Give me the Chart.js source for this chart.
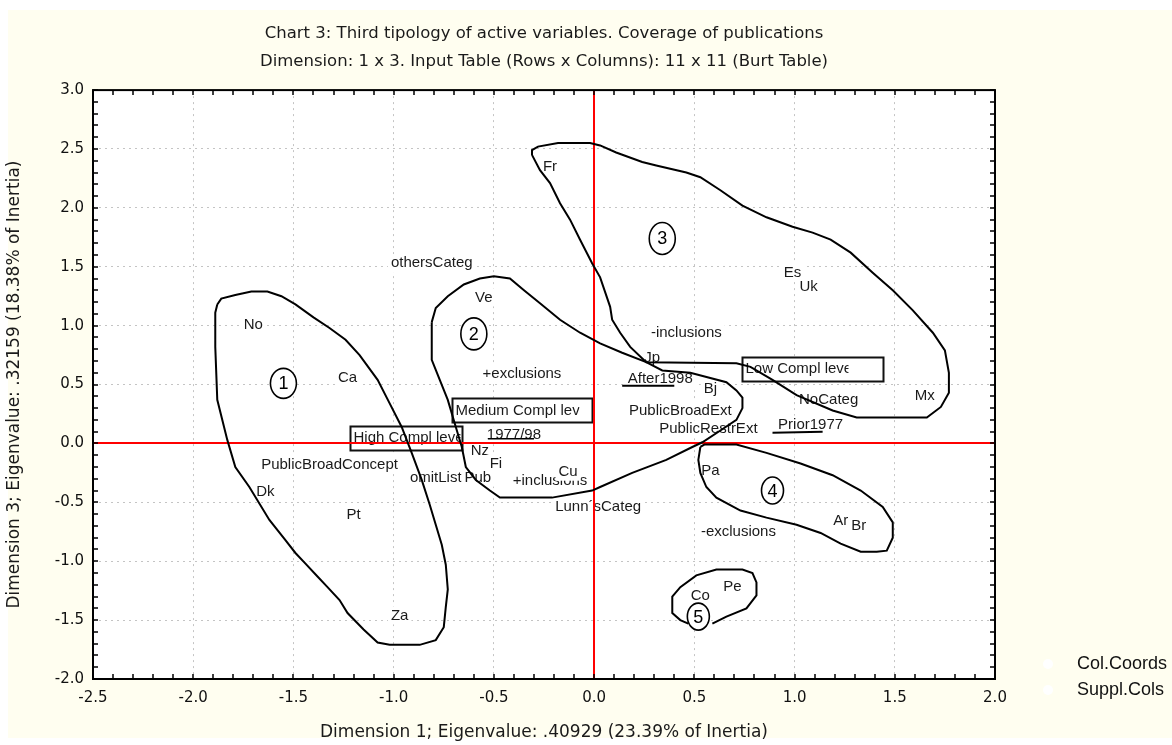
<!DOCTYPE html>
<html>
<head>
<meta charset="utf-8">
<script src="https://cdn.jsdelivr.net/npm/chart.js@4.4.1/dist/chart.umd.min.js"></script>
<style>
  html, body { margin: 0; padding: 0; background: #ffffff; }
</style>
</head>
<body>
<canvas id="myChart" width="1172" height="745"></canvas>
<script>

// ---- texts ----
const chartTitle = [
    'Chart 3: Third tipology of active variables. Coverage of publications',
    'Dimension: 1 x 3. Input Table (Rows x Columns): 11 x 11 (Burt Table)'
];
const xTitle = 'Dimension 1; Eigenvalue: .40929 (23.39% of Inertia)';
const yTitle = 'Dimension 3; Eigenvalue: .32159 (18.38% of Inertia)';
const seriesNames = ['Col.Coords', 'Suppl.Cols'];

// ---- axis ranges ----
const xMin = -2.5, xMax = 2.0;
const yMin = -2.0, yMax = 3.0;

// ---- category points (Col.Coords) ----
const catNames = ['othersCateg', '-inclusions', '+exclusions', 'After1998', 'NoCateg',
    'PublicBroadExt', 'PublicRestrExt', 'Prior1977', '1977/98', 'PublicBroadConcept',
    'omitList', 'Pub', '+inclusions', 'Lunn´sCateg', '-exclusions'];
const catX = [-0.81, 0.46, -0.36, 0.33, 1.17, 0.43, 0.57, 1.08, -0.40, -1.32,
    -0.79, -0.58, -0.22, 0.02, 0.72];
const catY = [1.53, 0.94, 0.59, 0.55, 0.37, 0.28, 0.12, 0.16, 0.07, -0.18,
    -0.29, -0.29, -0.32, -0.54, -0.75];

// ---- compliance levels (boxed labels) ----
const levelNames = ['High Compl level', 'Medium Compl level', 'Low Compl level'];
const levelX = [-0.94, -0.36, 1.09];
const levelY = [0.05, 0.28, 0.63];

// ---- countries (Suppl.Cols) ----
const countryNames = ['Fr', 'Ve', 'Es', 'Uk', 'No', 'Jp', 'Ca', 'Bj', 'Mx', 'Nz',
    'Fi', 'Cu', 'Pa', 'Dk', 'Pt', 'Br', 'Ar', 'Pe', 'Co', 'Za'];
const countryX = [-0.22, -0.55, 0.99, 1.07, -1.70, 0.29, -1.23, 0.58, 1.65, -0.57,
    -0.49, -0.13, 0.58, -1.64, -1.20, 1.32, 1.23, 0.69, 0.53, -0.97];
const countryY = [2.35, 1.24, 1.45, 1.33, 1.01, 0.73, 0.56, 0.46, 0.40, -0.06,
    -0.17, -0.24, -0.23, -0.41, -0.61, -0.70, -0.66, -1.22, -1.29, -1.46];

// ---- cluster numbers ----
const clusterNo = ['1', '2', '3', '4', '5'];
const clusterX = [-1.55, -0.60, 0.34, 0.89, 0.52];
const clusterY = [0.51, 0.93, 1.74, -0.40, -1.47];

// ---- hand drawn cluster outlines ----
const region1 = [[-1.88,1.18],[-1.86,1.23],[-1.79,1.26],[-1.71,1.29],[-1.63,1.29],[-1.56,1.25],
    [-1.49,1.18],[-1.40,1.07],[-1.32,0.98],[-1.24,0.88],[-1.17,0.75],[-1.08,0.54],[-1.02,0.34],
    [-0.96,0.14],[-0.91,-0.08],[-0.86,-0.31],[-0.82,-0.52],[-0.79,-0.69],[-0.76,-0.86],[-0.74,-1.03],
    [-0.73,-1.24],[-0.74,-1.39],[-0.75,-1.56],[-0.79,-1.67],[-0.87,-1.71],[-1.02,-1.71],[-1.08,-1.69],
    [-1.15,-1.58],[-1.23,-1.44],[-1.27,-1.33],[-1.33,-1.22],[-1.38,-1.13],[-1.44,-1.02],[-1.49,-0.93],
    [-1.54,-0.82],[-1.62,-0.65],[-1.72,-0.37],[-1.79,-0.20],[-1.83,0.03],[-1.88,0.37],[-1.89,0.82],
    [-1.89,1.11],[-1.88,1.18]];
const region2 = [[-0.81,1.03],[-0.79,1.15],[-0.73,1.25],[-0.65,1.35],[-0.57,1.40],[-0.50,1.42],
    [-0.42,1.40],[-0.35,1.30],[-0.27,1.19],[-0.17,1.05],[-0.07,0.94],[0.03,0.85],[0.14,0.77],
    [0.26,0.69],[0.34,0.62],[0.48,0.60],[0.66,0.52],[0.71,0.45],[0.74,0.39],[0.74,0.30],[0.71,0.20],
    [0.63,0.11],[0.54,0.01],[0.49,-0.03],[0.36,-0.14],[0.19,-0.25],[0.03,-0.37],[-0.01,-0.40],
    [-0.21,-0.46],[-0.47,-0.46],[-0.52,-0.40],[-0.59,-0.31],[-0.64,-0.20],[-0.66,-0.03],[-0.69,0.14],
    [-0.73,0.37],[-0.77,0.54],[-0.81,0.71],[-0.81,0.88],[-0.81,1.03]];
const region3 = [[-0.31,2.45],[-0.31,2.49],[-0.28,2.52],[-0.18,2.55],[-0.02,2.55],[0.03,2.53],
    [0.11,2.47],[0.24,2.39],[0.31,2.36],[0.46,2.30],[0.53,2.26],[0.63,2.15],[0.74,2.02],[0.86,1.92],
    [0.99,1.84],[1.09,1.79],[1.18,1.73],[1.28,1.62],[1.39,1.45],[1.49,1.30],[1.59,1.13],[1.69,0.94],
    [1.75,0.79],[1.77,0.60],[1.77,0.43],[1.73,0.31],[1.66,0.22],[1.31,0.22],[1.19,0.28],[1.01,0.41],
    [0.89,0.54],[0.78,0.65],[0.71,0.68],[0.26,0.69],[0.18,0.82],[0.13,0.94],[0.09,1.05],[0.08,1.16],
    [0.03,1.41],[-0.01,1.53],[-0.07,1.73],[-0.12,1.90],[-0.17,2.04],[-0.22,2.21],[-0.27,2.32],
    [-0.31,2.45]];
const region4 = [[0.53,-0.03],[0.55,-0.01],[0.71,-0.01],[0.86,-0.08],[1.03,-0.17],[1.19,-0.27],
    [1.33,-0.40],[1.44,-0.54],[1.49,-0.67],[1.49,-0.80],[1.46,-0.91],[1.41,-0.92],[1.33,-0.92],
    [1.23,-0.85],[1.13,-0.76],[1.01,-0.69],[0.86,-0.63],[0.73,-0.57],[0.61,-0.46],[0.56,-0.37],
    [0.53,-0.25],[0.52,-0.14],[0.53,-0.03]];
const region5 = [[0.47,-1.53],[0.43,-1.50],[0.39,-1.44],[0.39,-1.30],[0.43,-1.22],[0.51,-1.12],
    [0.61,-1.07],[0.74,-1.07],[0.79,-1.10],[0.81,-1.18],[0.81,-1.29],[0.76,-1.40],[0.66,-1.47],
    [0.59,-1.53]];

// small hand strokes under / through some labels
const markAfter = [[0.14,0.49],[0.40,0.49]];
const markPrior = [[0.89,0.09],[1.14,0.10]];
const mark7798 = [[-0.53,0.04],[-0.30,0.04]];


const toPts = (xs, ys) => xs.map((x, i) => ({x: x, y: ys[i]}));
const toPath = (pairs) => pairs.map(p => ({x: p[0], y: p[1]}));

const labelFont = '15px "Liberation Sans", Arial, sans-serif';
const axisFont = 'DejaVu Sans';

function tagSet(label, kind, names, xs, ys) {
    return {
        label: label,
        kind: kind,
        names: names,
        data: toPts(xs, ys),
        pointRadius: 0,
        backgroundColor: '#ffffff',
        borderColor: '#ffffff',
        showLine: false
    };
}
function lineSet(pairs, w) {
    return {
        kind: 'line',
        data: toPath(pairs),
        showLine: true,
        pointRadius: 0,
        borderColor: '#000000',
        borderWidth: w,
        tension: 0,
        fill: false
    };
}

// box sizes for the level labels, and how much of the text stays visible
const boxW = [112, 140, 141];
const boxH = 24;
const boxClip = [107, 124, 103];
// ellipse radii of the cluster numbers
const ringR = [[13, 15], [13, 16], [13, 16], [11, 13.5], [11, 13.5]];

const plotDeco = {
    id: 'plotDeco',
    beforeDraw(chart) {
        const {ctx, chartArea: a} = chart;
        ctx.save();
        ctx.fillStyle = '#ffffff';
        ctx.fillRect(0, 0, chart.width, chart.height);
        ctx.fillStyle = '#fffef0';
        ctx.fillRect(8, 10, chart.width - 8, chart.height - 17);
        ctx.fillStyle = '#ffffff';
        ctx.fillRect(a.left, a.top, a.right - a.left, a.bottom - a.top);
        ctx.restore();
    },
    beforeDatasetsDraw(chart) {
        const {ctx, chartArea: a} = chart;
        const xs = chart.scales.x, ys = chart.scales.y;
        ctx.save();
        ctx.font = labelFont;
        ctx.textBaseline = 'middle';
        chart.data.datasets.forEach((ds, di) => {
            const meta = chart.getDatasetMeta(di);
            if (ds.kind === 'tag') {
                meta.data.forEach((pt, j) => {
                    const t = ds.names[j];
                    const w = ctx.measureText(t).width;
                    ctx.fillStyle = '#ffffff';
                    ctx.fillRect(pt.x - w / 2 - 3, pt.y - 9, w + 6, 18);
                    ctx.fillStyle = '#1a1a1a';
                    ctx.textAlign = 'center';
                    ctx.fillText(t, pt.x, pt.y);
                });
            } else if (ds.kind === 'box') {
                meta.data.forEach((pt, j) => {
                    const l = Math.round(pt.x - boxW[j] / 2) + 0.5;
                    const t = Math.round(pt.y - boxH / 2) + 0.5;
                    ctx.fillStyle = '#ffffff';
                    ctx.fillRect(l, t, boxW[j], boxH);
                    ctx.save();
                    ctx.beginPath();
                    ctx.rect(l, t, 3 + boxClip[j], boxH);
                    ctx.clip();
                    ctx.fillStyle = '#1a1a1a';
                    ctx.textAlign = 'left';
                    ctx.fillText(ds.names[j], l + 3, pt.y);
                    ctx.restore();
                    ctx.strokeStyle = '#111111';
                    ctx.lineWidth = 2;
                    ctx.strokeRect(l, t, boxW[j], boxH);
                });
            }
        });
        // red origin lines
        const x0 = Math.round(xs.getPixelForValue(0));
        const y0 = Math.round(ys.getPixelForValue(0));
        ctx.strokeStyle = '#ff0000';
        ctx.lineWidth = 2;
        ctx.beginPath();
        ctx.moveTo(x0, a.top); ctx.lineTo(x0, a.bottom);
        ctx.moveTo(a.left, y0); ctx.lineTo(a.right, y0);
        ctx.stroke();
        ctx.restore();
    },
    afterDatasetsDraw(chart) {
        const {ctx, chartArea: a} = chart;
        const xs = chart.scales.x, ys = chart.scales.y;
        ctx.save();
        // numbered rings
        chart.data.datasets.forEach((ds, di) => {
            if (ds.kind !== 'ring') return;
            chart.getDatasetMeta(di).data.forEach((pt, j) => {
                ctx.beginPath();
                ctx.ellipse(pt.x, pt.y, ringR[j][0], ringR[j][1], 0, 0, Math.PI * 2);
                ctx.fillStyle = '#ffffff';
                ctx.fill();
                ctx.lineWidth = 1.6;
                ctx.strokeStyle = '#000000';
                ctx.stroke();
                ctx.fillStyle = '#000000';
                ctx.font = '18px "Liberation Sans", Arial, sans-serif';
                ctx.textAlign = 'center';
                ctx.textBaseline = 'middle';
                ctx.fillText(ds.names[j], pt.x, pt.y + 1);
            });
        });
        // frame
        ctx.strokeStyle = '#000000';
        ctx.lineWidth = 2;
        ctx.strokeRect(a.left, a.top, a.right - a.left, a.bottom - a.top);
        // inward minor ticks every 0.1
        ctx.lineWidth = 1.5;
        ctx.beginPath();
        const nx = Math.round((xMax - xMin) * 10);
        for (let i = 0; i <= nx; i++) {
            const px = Math.round(xs.getPixelForValue(xMin + i / 10));
            ctx.moveTo(px, a.top); ctx.lineTo(px, a.top + 5);
            ctx.moveTo(px, a.bottom); ctx.lineTo(px, a.bottom - 5);
        }
        const ny = Math.round((yMax - yMin) * 10);
        for (let i = 0; i <= ny; i++) {
            const py = Math.round(ys.getPixelForValue(yMin + i / 10));
            ctx.moveTo(a.left, py); ctx.lineTo(a.left + 5, py);
            ctx.moveTo(a.right, py); ctx.lineTo(a.right - 5, py);
        }
        ctx.stroke();
        ctx.restore();
    },
    afterDraw(chart) {
        // legend, bottom right
        const ctx = chart.ctx;
        ctx.save();
        ctx.font = '18px "Liberation Sans", Arial, sans-serif';
        ctx.textAlign = 'left';
        ctx.textBaseline = 'middle';
        chart.data.datasets.filter(d => d.kind === 'tag').forEach((d, i) => {
            const y = 664 + i * 26;
            ctx.fillStyle = d.backgroundColor;
            ctx.beginPath();
            ctx.arc(1048, y, 5, 0, Math.PI * 2);
            ctx.fill();
            ctx.fillStyle = '#111111';
            ctx.fillText(d.label, 1077, y);
        });
        ctx.restore();
    }
};

const graph = document.getElementById('myChart').getContext('2d');

const myChart = new Chart(graph, {
    type: 'scatter',
    data: {
        datasets: [
            tagSet(seriesNames[0], 'tag', catNames, catX, catY),
            tagSet(seriesNames[1], 'tag', countryNames, countryX, countryY),
            tagSet('levels', 'box', levelNames, levelX, levelY),
            tagSet('clusters', 'ring', clusterNo, clusterX, clusterY),
            lineSet(region1, 2),
            lineSet(region2, 2),
            lineSet(region3, 2),
            lineSet(region4, 2),
            lineSet(region5, 2),
            lineSet(markAfter, 2),
            lineSet(markPrior, 2),
            lineSet(mark7798, 1.5)
        ]
    },
    options: {
        responsive: false,
        devicePixelRatio: 1,
        animation: false,
        events: [],
        layout: {
            padding: {left: 0, top: 0, right: 177, bottom: 0}
        },
        plugins: {
            legend: {display: false},
            tooltip: {enabled: false},
            title: {
                display: true,
                fullSize: false,
                text: chartTitle,
                color: '#1a1a1a',
                font: {family: axisFont, size: 16.5, weight: 'normal', lineHeight: 1.7},
                padding: {top: 20, bottom: 14}
            }
        },
        scales: {
            x: {
                type: 'linear',
                min: xMin,
                max: xMax,
                afterFit: (scale) => { scale.height = 66; },
                ticks: {
                    stepSize: 0.5,
                    autoSkip: false,
                    maxRotation: 0,
                    padding: 10,
                    color: '#111111',
                    font: {family: axisFont, size: 15},
                    callback: (v) => Number(v).toFixed(1)
                },
                grid: {
                    color: '#c4c4c4',
                    lineWidth: 1,
                    drawTicks: false
                },
                border: {display: false, dash: [2, 4]},
                title: {
                    display: true,
                    text: xTitle,
                    color: '#1a1a1a',
                    font: {family: axisFont, size: 17},
                    padding: {top: 0, bottom: 2}
                }
            },
            y: {
                type: 'linear',
                min: yMin,
                max: yMax,
                afterFit: (scale) => { scale.width = 93; },
                ticks: {
                    stepSize: 0.5,
                    autoSkip: false,
                    padding: 9,
                    color: '#111111',
                    font: {family: axisFont, size: 15},
                    callback: (v) => Number(v).toFixed(1)
                },
                grid: {
                    color: '#c4c4c4',
                    lineWidth: 1,
                    drawTicks: false
                },
                border: {display: false, dash: [2, 4]},
                title: {
                    display: true,
                    text: yTitle,
                    color: '#1a1a1a',
                    font: {family: axisFont, size: 17},
                    padding: {top: 4, bottom: 0}
                }
            }
        }
    },
    plugins: [plotDeco]
});

</script>
</body>
</html>
